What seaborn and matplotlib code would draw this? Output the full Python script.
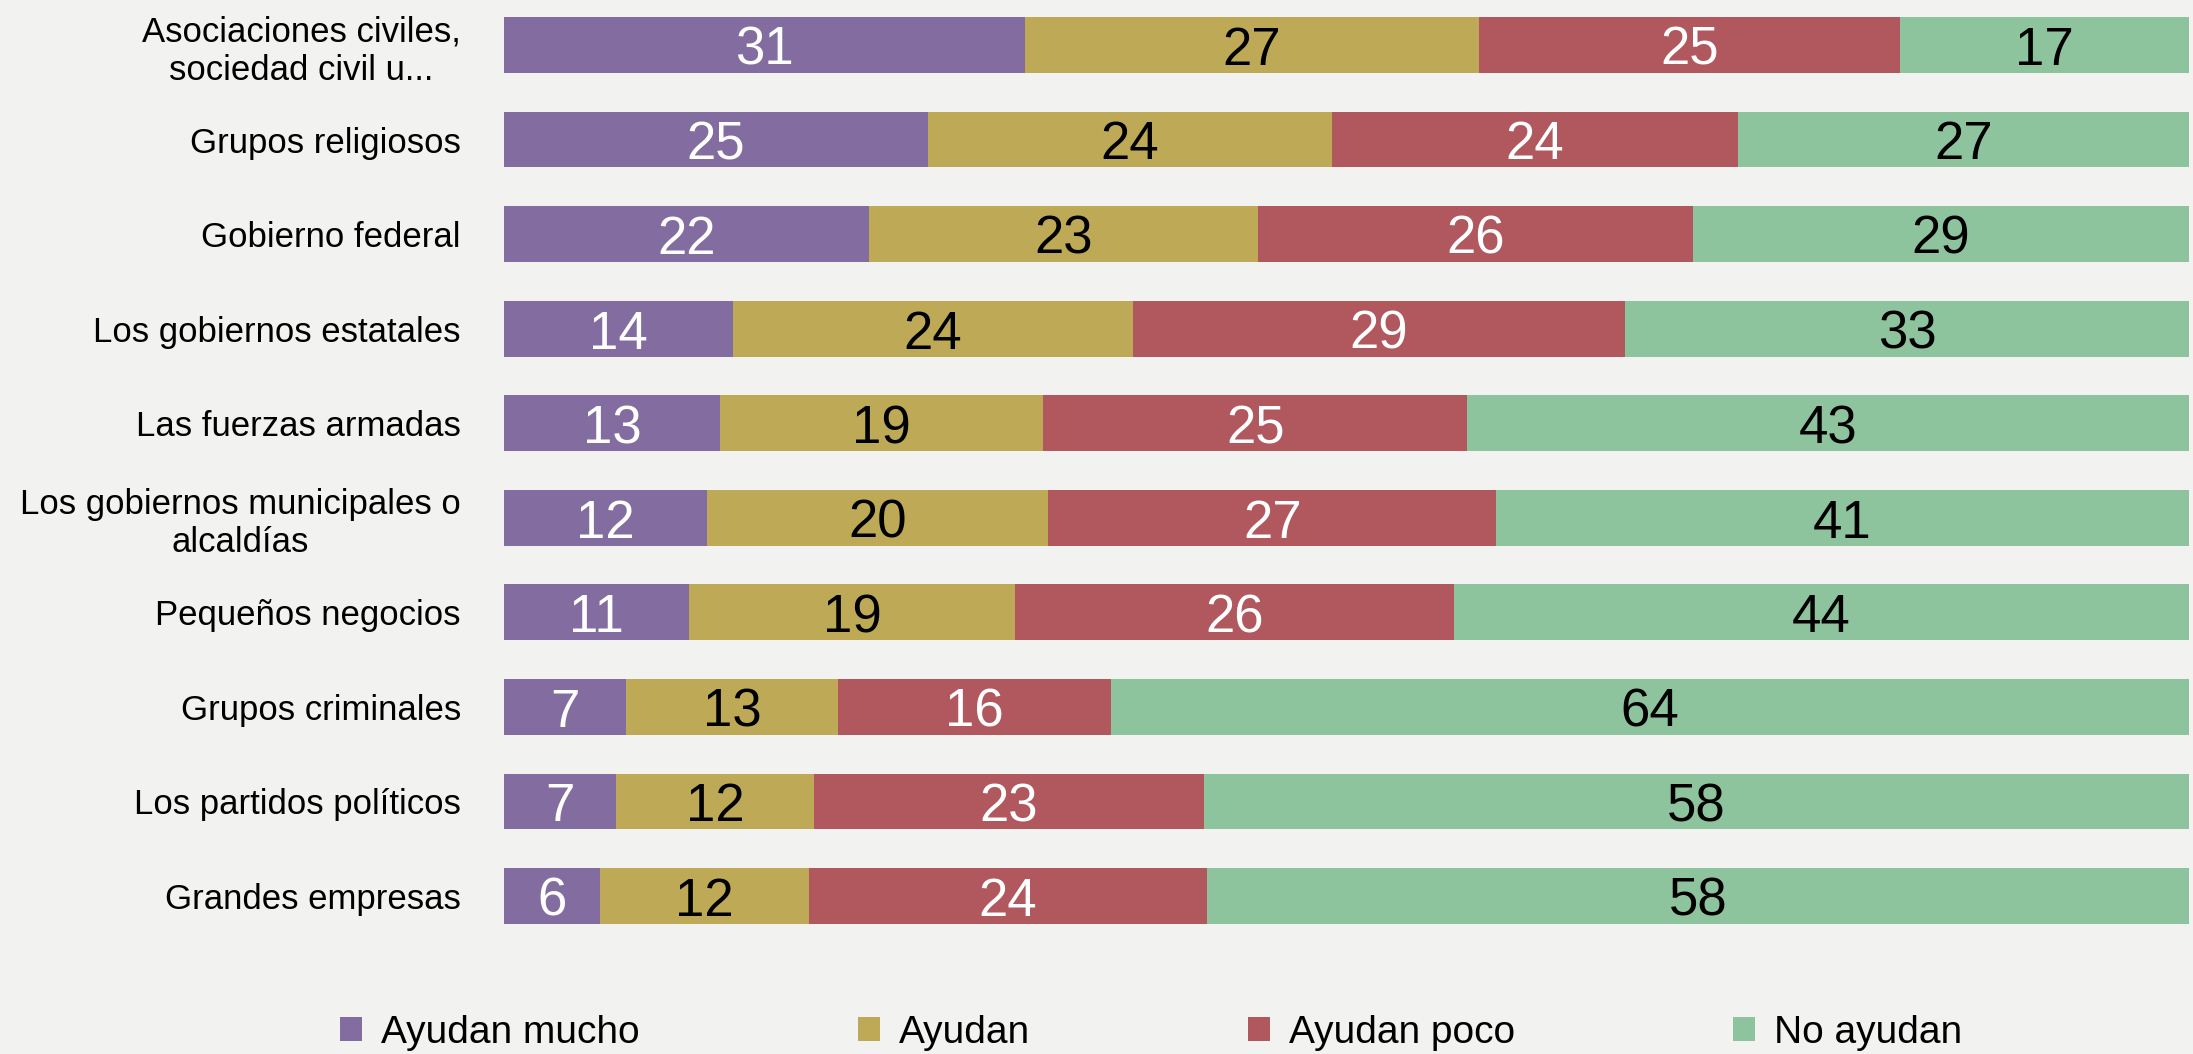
import matplotlib
matplotlib.use("Agg")
import matplotlib.pyplot as plt
import seaborn as sns
import pandas as pd
from matplotlib import font_manager
from matplotlib.patches import Patch

# ---------------- data ----------------
categories = [
    "Asociaciones civiles,\nsociedad civil u...",
    "Grupos religiosos",
    "Gobierno federal",
    "Los gobiernos estatales",
    "Las fuerzas armadas",
    "Los gobiernos municipales o\nalcaldías",
    "Pequeños negocios",
    "Grupos criminales",
    "Los partidos políticos",
    "Grandes empresas",
]
ayudan_mucho = [30.93, 25.17, 21.66, 13.60, 12.81, 12.05, 11.00, 7.27, 6.66, 5.69]
ayudan = [26.96, 23.98, 23.11, 23.74, 19.21, 20.27, 19.35, 12.57, 11.76, 12.42]
ayudan_poco = [24.99, 24.12, 25.81, 29.23, 25.15, 26.58, 26.06, 16.21, 23.14, 23.63]
no_ayudan = [17.12, 26.73, 29.42, 33.43, 42.83, 41.10, 43.59, 63.95, 58.44, 58.26]
series_names = ["Ayudan mucho", "Ayudan", "Ayudan poco", "No ayudan"]

# ---------------- style ----------------
colors = ["#836DA0", "#BEAA56", "#B0585E", "#8EC49D"]
text_colors = ["white", "black", "white", "black"]
bg = "#F2F2F0"

sns.set_theme(style="white")
names = {f.name for f in font_manager.fontManager.ttflist}
family = "Liberation Sans" if "Liberation Sans" in names else "DejaVu Sans"
plt.rcParams["font.family"] = [family, "DejaVu Sans"]

series = [ayudan_mucho, ayudan, ayudan_poco, no_ayudan]
df = pd.DataFrame({"categoria": categories})
cum = [0.0] * len(categories)
cums = []
for s in series:
    cum = [c + v for c, v in zip(cum, s)]
    cums.append(cum)
for k, name in enumerate(series_names):
    df[name + "_cum"] = cums[k]

fig = plt.figure(figsize=(21.93, 10.54), dpi=100, facecolor=bg)
ax = fig.add_axes([504 / 2193, 1 - 945 / 1054, (2188.5 - 504) / 2193, 945 / 1054])
ax.set_facecolor(bg)

# stacked bars: draw cumulative totals from outermost to innermost
for k in range(len(series) - 1, -1, -1):
    sns.barplot(data=df, x=series_names[k] + "_cum", y="categoria", order=categories,
                orient="h", color=colors[k], saturation=1, width=0.59, ax=ax,
                edgecolor="none", linewidth=0)

# value labels
for k, s in enumerate(series):
    for i, v in enumerate(s):
        start = cums[k][i] - v
        ax.text(start + v / 2, i + 0.21, f"{v:.0f}", ha="center", va="baseline",
                fontsize=38, color=text_colors[k])

ax.set_xlim(0, 100)
ax.set_ylim(9 + 49 / 94.5, -45 / 94.5)
ax.set_xlabel("")
ax.set_ylabel("")
ax.set_xticks([])
ax.tick_params(axis="y", length=0, pad=31, labelsize=25, labelcolor="black")
for lab in ax.get_yticklabels():
    lab.set_multialignment("center")
for sp in ax.spines.values():
    sp.set_visible(False)

handles = [Patch(facecolor=c, edgecolor="none") for c in colors]
fig.legend(handles, series_names, loc="center", bbox_to_anchor=(0.525, 0.02),
           ncol=4, frameon=False, fontsize=28, handlelength=0.56, handleheight=0.56,
           handletextpad=0.5, columnspacing=5.6, labelcolor="black")

fig.savefig("out.png", dpi=100, facecolor=bg)
